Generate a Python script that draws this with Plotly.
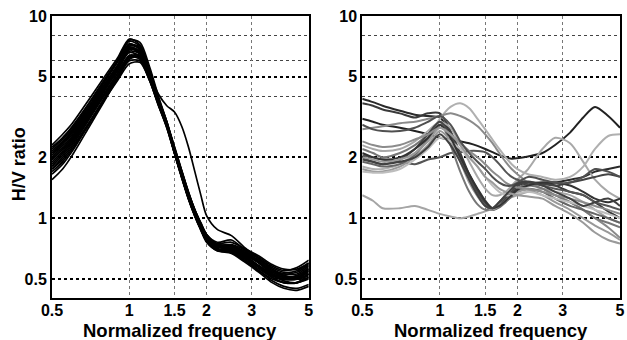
import math
import plotly.graph_objects as go

# Frequencies (normalized) at which curves are sampled
freq = [0.5, 0.55, 0.6, 0.7, 0.8, 0.9, 1.0, 1.1, 1.2, 1.3, 1.4, 1.5, 1.6, 1.7, 1.8,
        1.9, 2.0, 2.2, 2.5, 2.8, 3.2, 3.6, 4.0, 4.5, 5.0]

# Left panel: H/V ratio curves (black)
left_curves = [
    [2.3, 2.6, 2.95, 3.9, 5.0, 6.2, 7.7, 7.2, 5.4, 3.9, 2.9, 2.1, 1.6, 1.25, 1.03, 0.88, 0.77, 0.7, 0.7, 0.64, 0.57, 0.51, 0.48, 0.48, 0.5],
    [1.55, 1.75, 2.05, 2.85, 3.8, 4.9, 6.1, 6.3, 5.1, 3.8, 2.95, 2.25, 1.72, 1.35, 1.1, 0.95, 0.83, 0.74, 0.73, 0.69, 0.63, 0.57, 0.54, 0.55, 0.6],
    [2.05, 2.35, 2.7, 3.6, 4.7, 5.9, 7.3, 6.8, 5.1, 3.75, 2.85, 2.1, 1.6, 1.26, 1.04, 0.9, 0.8, 0.72, 0.71, 0.66, 0.58, 0.52, 0.49, 0.48, 0.51],
    [1.75, 1.95, 2.25, 3.0, 3.9, 4.9, 6.0, 6.0, 4.8, 3.6, 2.85, 2.2, 1.7, 1.34, 1.1, 0.94, 0.83, 0.74, 0.73, 0.68, 0.62, 0.56, 0.53, 0.53, 0.58],
    [1.95, 2.2, 2.5, 3.35, 4.35, 5.45, 6.7, 6.5, 5.2, 4.1, 3.6, 3.35, 2.85, 2.25, 1.7, 1.3, 1.03, 0.88, 0.82, 0.72, 0.63, 0.56, 0.52, 0.51, 0.55],
    [2.2, 2.5, 2.8, 3.7, 4.8, 6.0, 7.5, 7.1, 5.3, 3.8, 2.9, 2.12, 1.62, 1.27, 1.05, 0.9, 0.79, 0.71, 0.68, 0.62, 0.55, 0.49, 0.46, 0.45, 0.47],
    [1.85, 2.1, 2.4, 3.25, 4.25, 5.35, 6.6, 6.3, 5.0, 3.7, 2.9, 2.2, 1.7, 1.33, 1.09, 0.93, 0.82, 0.74, 0.74, 0.7, 0.64, 0.58, 0.55, 0.57, 0.62],
    [2.1, 2.4, 2.7, 3.5, 4.5, 5.6, 7.0, 6.7, 5.2, 3.8, 2.9, 2.15, 1.64, 1.29, 1.06, 0.91, 0.8, 0.72, 0.7, 0.64, 0.57, 0.52, 0.5, 0.5, 0.53],
    [1.7, 1.9, 2.2, 2.95, 3.85, 4.8, 5.8, 5.9, 4.8, 3.65, 2.85, 2.18, 1.68, 1.32, 1.08, 0.93, 0.82, 0.73, 0.72, 0.67, 0.61, 0.55, 0.52, 0.51, 0.54],
    [2.0, 2.25, 2.55, 3.4, 4.45, 5.6, 7.1, 6.9, 5.3, 3.9, 3.0, 2.25, 1.72, 1.34, 1.1, 0.94, 0.83, 0.76, 0.78, 0.7, 0.6, 0.53, 0.5, 0.52, 0.56],
    [1.9, 2.15, 2.45, 3.3, 4.3, 5.5, 6.9, 6.6, 5.1, 3.75, 2.9, 2.15, 1.63, 1.28, 1.05, 0.9, 0.78, 0.7, 0.69, 0.63, 0.56, 0.51, 0.48, 0.48, 0.53],
    [1.8, 2.05, 2.35, 3.15, 4.1, 5.2, 6.4, 6.2, 4.9, 3.65, 2.85, 2.12, 1.62, 1.27, 1.04, 0.89, 0.78, 0.7, 0.7, 0.66, 0.6, 0.54, 0.51, 0.5, 0.52],
    [2.15, 2.45, 2.75, 3.6, 4.6, 5.7, 6.9, 6.5, 5.0, 3.7, 2.85, 2.1, 1.6, 1.25, 1.03, 0.88, 0.77, 0.69, 0.67, 0.61, 0.54, 0.48, 0.45, 0.44, 0.46],
    [1.65, 1.85, 2.15, 2.95, 3.95, 5.0, 6.3, 6.4, 5.2, 3.85, 2.95, 2.2, 1.68, 1.32, 1.08, 0.93, 0.82, 0.75, 0.76, 0.71, 0.65, 0.59, 0.56, 0.56, 0.6],
    [1.95, 2.2, 2.5, 3.35, 4.35, 5.5, 6.8, 6.7, 5.3, 3.9, 3.0, 2.2, 1.66, 1.3, 1.07, 0.92, 0.81, 0.73, 0.71, 0.65, 0.58, 0.52, 0.5, 0.5, 0.55],
    [2.25, 2.5, 2.85, 3.75, 4.85, 6.05, 7.6, 7.4, 5.6, 4.0, 3.0, 2.2, 1.66, 1.3, 1.07, 0.91, 0.8, 0.72, 0.7, 0.65, 0.58, 0.53, 0.51, 0.52, 0.57],
    [1.85, 2.1, 2.4, 3.2, 4.15, 5.2, 6.3, 6.1, 4.8, 3.6, 2.8, 2.1, 1.6, 1.26, 1.03, 0.88, 0.77, 0.7, 0.69, 0.64, 0.58, 0.53, 0.51, 0.51, 0.56],
    [2.0, 2.3, 2.6, 3.45, 4.5, 5.6, 7.0, 6.6, 5.0, 3.65, 2.8, 2.08, 1.58, 1.24, 1.02, 0.87, 0.76, 0.69, 0.68, 0.62, 0.55, 0.5, 0.48, 0.48, 0.51],
    [1.75, 2.0, 2.3, 3.1, 4.05, 5.05, 6.2, 6.3, 5.1, 3.8, 2.95, 2.2, 1.68, 1.32, 1.08, 0.93, 0.82, 0.74, 0.72, 0.67, 0.6, 0.54, 0.52, 0.5, 0.53],
    [2.1, 2.35, 2.65, 3.5, 4.55, 5.7, 7.2, 7.0, 5.4, 3.9, 2.95, 2.17, 1.65, 1.29, 1.06, 0.91, 0.8, 0.73, 0.73, 0.68, 0.61, 0.55, 0.53, 0.54, 0.59],
]

# Right panel: H/V ratio curves (grey shades)
right_curves = [
    [3.9, 3.75, 3.6, 3.4, 3.25, 3.2, 3.15, 2.6, 2.0, 1.6, 1.35, 1.17, 1.1, 1.2, 1.3, 1.38, 1.45, 1.5, 1.48, 1.5, 1.55, 1.6, 1.7, 1.75, 1.8],
    [3.7, 3.6, 3.45, 3.3, 3.15, 3.3, 3.3, 2.7, 2.1, 1.65, 1.38, 1.2, 1.12, 1.17, 1.25, 1.33, 1.4, 1.48, 1.5, 1.45, 1.35, 1.3, 1.2, 1.08, 1.0],
    [3.1, 3.0, 2.9, 2.8, 2.7, 2.6, 2.5, 2.45, 2.4, 2.35, 2.28, 2.2, 2.12, 2.05, 2.0, 1.97, 1.98, 2.02, 2.1, 2.3, 2.65, 3.15, 3.55, 3.2, 2.8],
    [2.3, 2.2, 2.15, 2.2, 2.4, 2.7, 3.0, 2.8, 2.3, 1.9, 1.6, 1.4, 1.3, 1.3, 1.35, 1.45, 1.55, 1.75, 2.2, 2.5, 2.35, 1.9, 1.55, 1.35, 1.25],
    [1.8, 1.75, 1.75, 1.85, 2.1, 2.5, 3.1, 3.55, 3.7, 3.5, 3.1, 2.75, 2.45, 2.2, 2.0, 1.85, 1.75, 1.65, 1.6, 1.55, 1.6, 1.8, 2.2, 2.55, 2.6],
    [2.75, 2.8, 2.85, 2.95, 3.0, 3.1, 3.2, 3.3, 3.2, 3.05, 2.85, 2.6, 2.35, 2.1, 1.9, 1.75, 1.65, 1.5, 1.4, 1.3, 1.2, 1.1, 1.0, 0.9, 0.8],
    [1.3, 1.22, 1.12, 1.12, 1.15, 1.1, 1.05, 1.02, 1.0, 1.02, 1.05, 1.08, 1.12, 1.17, 1.22, 1.27, 1.3, 1.35, 1.4, 1.35, 1.3, 1.2, 1.1, 1.0, 0.95],
    [2.05, 2.0, 1.95, 1.9, 1.85, 1.95, 2.0, 2.1, 2.12, 2.15, 2.15, 2.12, 2.0, 1.85, 1.7, 1.6, 1.55, 1.5, 1.45, 1.4, 1.35, 1.3, 1.2, 1.15, 1.1],
    [2.2, 2.1, 2.0, 2.1, 2.3, 2.6, 3.0, 2.3, 1.7, 1.35, 1.17, 1.1, 1.12, 1.2, 1.3, 1.38, 1.42, 1.45, 1.4, 1.3, 1.2, 1.1, 1.0, 0.95, 0.9],
    [2.0, 1.9, 1.85, 1.95, 2.2, 2.6, 3.0, 2.6, 2.0, 1.6, 1.35, 1.18, 1.1, 1.15, 1.25, 1.35, 1.45, 1.5, 1.48, 1.45, 1.5, 1.55, 1.6, 1.65, 1.6],
    [1.9, 1.85, 1.8, 1.85, 2.05, 2.45, 2.9, 2.5, 1.95, 1.55, 1.3, 1.15, 1.1, 1.13, 1.2, 1.28, 1.35, 1.4, 1.35, 1.25, 1.15, 1.1, 1.05, 1.0, 0.95],
    [1.75, 1.7, 1.7, 1.8, 2.0, 2.3, 2.7, 2.4, 1.9, 1.5, 1.28, 1.15, 1.1, 1.15, 1.22, 1.3, 1.35, 1.38, 1.3, 1.2, 1.1, 1.0, 0.92, 0.85, 0.78],
    [1.7, 1.68, 1.68, 1.75, 1.95, 2.2, 2.5, 2.4, 2.2, 2.0, 1.8, 1.6, 1.45, 1.35, 1.3, 1.3, 1.32, 1.35, 1.3, 1.25, 1.2, 1.15, 1.1, 1.05, 1.0],
    [2.1, 2.0, 1.95, 2.0, 2.2, 2.5, 2.9, 2.5, 2.0, 1.65, 1.4, 1.22, 1.12, 1.15, 1.22, 1.3, 1.38, 1.45, 1.5, 1.5, 1.45, 1.35, 1.25, 1.2, 1.25],
    [2.4, 2.3, 2.25, 2.3, 2.45, 2.6, 2.8, 2.6, 2.35, 2.15, 2.0, 1.85, 1.7, 1.6, 1.5, 1.45, 1.42, 1.4, 1.35, 1.3, 1.25, 1.2, 1.15, 1.1, 1.05],
    [2.9, 2.75, 2.7, 2.7, 2.8, 3.0, 3.2, 2.9, 2.4, 2.1, 1.9, 1.75, 1.6, 1.5, 1.45, 1.45, 1.5, 1.6, 1.55, 1.5, 1.5, 1.6, 1.75, 1.7, 1.6],
    [2.0, 1.95, 1.9, 1.95, 2.1, 2.4, 2.8, 2.6, 2.3, 2.0, 1.8, 1.6, 1.5, 1.4, 1.35, 1.32, 1.3, 1.28, 1.25, 1.15, 1.05, 0.95, 0.85, 0.78, 0.75],
    [1.95, 1.9, 1.85, 1.9, 2.0, 2.25, 2.6, 2.3, 1.9, 1.55, 1.3, 1.15, 1.12, 1.2, 1.3, 1.4, 1.48, 1.52, 1.45, 1.35, 1.25, 1.15, 1.2, 1.25, 1.15],
]
right_colors = ["#2a2a2a", "#3a3a3a", "#222222", "#a8a8a8", "#b0b0b0", "#8a8a8a",
                "#a5a5a5", "#555555", "#777777", "#444444", "#666666", "#999999",
                "#bdbdbd", "#333333", "#8c8c8c", "#505050", "#9a9a9a", "#404040"]

x_ticks = [0.5, 1, 1.5, 2, 3, 5]
x_ticktext = ["0.5", "1", "1.5", "2", "3", "5"]
y_ticks = [0.5, 1, 2, 5, 10]
y_ticktext = ["0.5", "1", "2", "5", "10"]
y_minor = [4, 6, 8]

fig = go.Figure()
for c in left_curves:
    fig.add_trace(go.Scatter(x=freq, y=c, mode="lines", xaxis="x", yaxis="y",
                             line=dict(color="black", width=1.7, shape="spline", smoothing=0.8),
                             showlegend=False, hoverinfo="skip"))
for c, col in zip(right_curves, right_colors):
    fig.add_trace(go.Scatter(x=freq, y=c, mode="lines", xaxis="x2", yaxis="y2",
                             line=dict(color=col, width=2, shape="spline", smoothing=0.8),
                             showlegend=False, hoverinfo="skip"))

FAM = "Liberation Sans, Arial, sans-serif"
font_tick = dict(family=FAM, size=16, color="black", weight="bold")
ylo = math.log10(0.403)

xaxis_common = dict(type="log", range=[math.log10(0.5), math.log10(5)],
                    tickmode="array", tickvals=x_ticks, ticktext=x_ticktext,
                    showgrid=True, gridcolor="#777777", griddash="dot", gridwidth=1,
                    showline=True, linecolor="black", linewidth=2, mirror=True,
                    ticks="", tickfont=font_tick, zeroline=False,
                    ticklabelstandoff=-3)
yaxis_common = dict(type="log", range=[ylo, 1],
                    tickmode="array", tickvals=y_ticks, ticktext=y_ticktext,
                    showgrid=True, gridcolor="black", griddash="dot", gridwidth=1.5,
                    minor=dict(tickmode="array", tickvals=y_minor, showgrid=True,
                               gridcolor="#444444", griddash="dot", gridwidth=1, ticks=""),
                    showline=True, linecolor="black", linewidth=2, mirror=True,
                    ticks="", tickfont=font_tick, zeroline=False)

W = 627
H = 340
ml, mr, mt, mb = 52, 2, 16, 42
pw = W - ml - mr
d1 = [0, (311 - ml) / pw]
d2 = [(365 - ml) / pw, 1]

fig.update_layout(
    width=W, height=H,
    margin=dict(l=ml, r=mr, t=mt, b=mb),
    paper_bgcolor="white", plot_bgcolor="white",
    xaxis=dict(domain=d1, anchor="y", **xaxis_common),
    yaxis=dict(domain=[0, 1], anchor="x", **yaxis_common),
    xaxis2=dict(domain=d2, anchor="y2", **xaxis_common),
    yaxis2=dict(domain=[0, 1], anchor="x2", **yaxis_common),
)

title_font = dict(family=FAM, size=18.5, color="black", weight="bold")
ph = H - mt - mb
fig.add_annotation(text="Normalized frequency", xref="paper", yref="paper",
                   x=(d1[0] + d1[1]) / 2, y=-(330 - (H - mb)) / ph, xanchor="center", yanchor="middle",
                   showarrow=False, font=title_font)
fig.add_annotation(text="Normalized frequency", xref="paper", yref="paper",
                   x=(d2[0] + d2[1]) / 2, y=-(330 - (H - mb)) / ph, xanchor="center", yanchor="middle",
                   showarrow=False, font=title_font)
fig.add_annotation(text="H/V ratio", xref="paper", yref="paper",
                   x=(19 - ml) / pw, y=1 - (164 - mt) / ph, xanchor="center", yanchor="middle",
                   textangle=-90, showarrow=False,
                   font=dict(family=FAM, size=18, color="black", weight="bold"))

fig.write_html("out.html")
